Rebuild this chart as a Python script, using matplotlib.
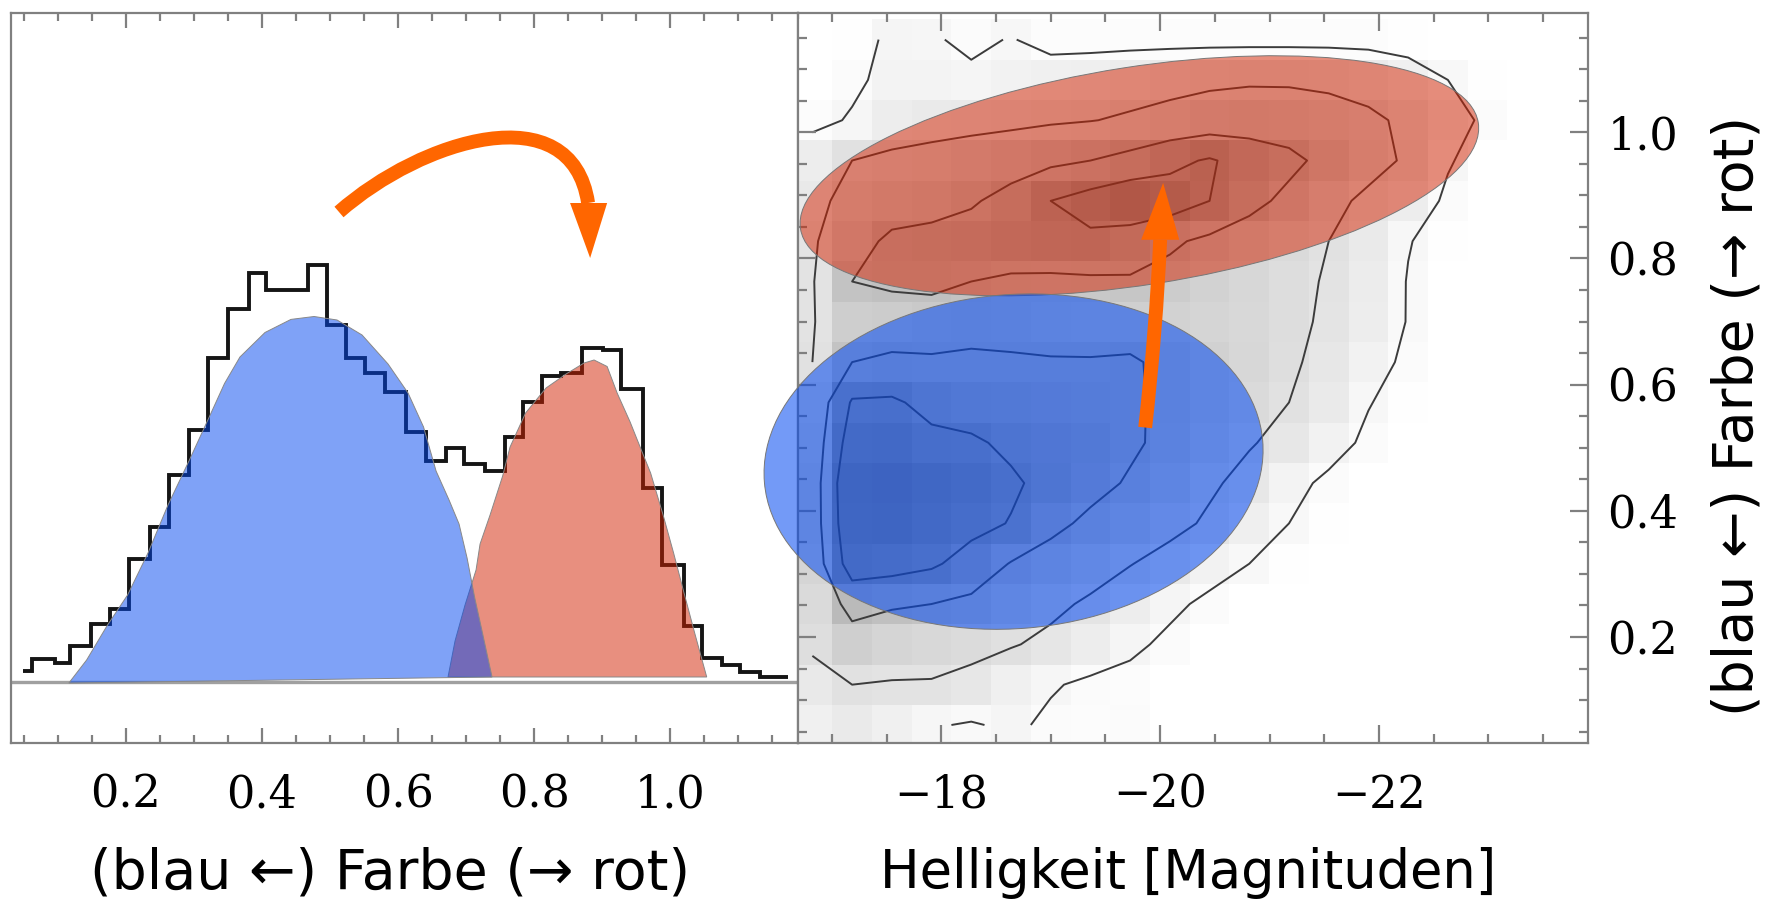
import numpy as np
import matplotlib
matplotlib.use("Agg")
import matplotlib.pyplot as plt
from matplotlib.patches import Polygon, Ellipse, PathPatch
from matplotlib.path import Path
from matplotlib.colors import LinearSegmentedColormap
import matplotlib.transforms as mtransforms
from matplotlib.ticker import MultipleLocator, FixedLocator

# ---------------- left panel: colour histogram ----------------
hist_edges = [0.0485, 0.0612, 0.0957, 0.1175, 0.1482, 0.1760, 0.2046, 0.2360, 0.2638, 0.2923,
              0.3209, 0.3494, 0.3809, 0.4063, 0.4672, 0.4956, 0.5241, 0.5512, 0.5812, 0.6112,
              0.6412, 0.6712, 0.6975, 0.7275, 0.7575, 0.7838, 0.8122, 0.8400, 0.8700, 0.9015,
              0.9285, 0.9601, 0.9885, 1.0201, 1.0463, 1.0763, 1.1026, 1.1326, 1.1740]
hist_counts = [11, 23, 19, 36, 58, 73, 123, 155, 207, 252, 324, 373, 409, 392, 417, 357,
               324, 309, 290, 250, 221, 234, 218, 211, 245, 280, 306, 309, 334, 332, 293,
               194, 117, 56, 24, 17, 10, 5]

# blue (star-forming) component outline
blue_comp_colour = [0.1161, 0.1422, 0.1720, 0.2024, 0.2324, 0.2618, 0.2926, 0.3221, 0.3449,
                    0.3676, 0.4044, 0.4426, 0.4765, 0.5103, 0.5471, 0.5853, 0.6147, 0.6375,
                    0.6559, 0.6750, 0.6897, 0.7015, 0.7125, 0.7235, 0.7382]
blue_comp_height = [-1.3, 21.7, 55.7, 86.7, 128.7, 176.7, 220.7, 264.2, 298.2, 324.7, 349.2,
                    362.3, 365.2, 361.7, 346.7, 317.7, 288.7, 254.7, 210.7, 181.7, 157.7,
                    123.7, 84.7, 50.7, 4.7]
# red (passive) component outline
red_comp_colour = [0.6735, 0.6838, 0.6985, 0.7147, 0.7206, 0.7353, 0.7538, 0.7647, 0.7875,
                   0.8176, 0.8471, 0.8735, 0.8882, 0.9074, 0.9221, 0.9412, 0.9559, 0.9713,
                   0.9897, 1.0051, 1.0201, 1.0353, 1.0538]
red_comp_height = [4.7, 40.7, 76.7, 111.7, 137.7, 166.7, 205.7, 234.7, 268.7, 293.7, 307.7,
                   318.7, 321.7, 315.2, 288.7, 259.7, 234.7, 208.7, 166.7, 128.7, 89.7,
                   50.7, 4.7]

colour_ticks = [0.2, 0.4, 0.6, 0.8, 1.0]
colour_ticklabels = ["0.2", "0.4", "0.6", "0.8", "1.0"]

# ---------------- right panel: colour-magnitude density ----------------
mag_range = (-16.64, -23.90)      # grid extent in magnitudes (20 cells)
col_range = (0.0286, 1.1788)      # grid extent in colour (18 cells)
density_rows_top_to_bottom = [
    [0.0, 0.1, 0.7, 0.6, 0.3, 0.55, 0.2, 0.2, 0.2, 0.2, 0.2, 0.2, 0.2, 0.2, 0.2, 0.1, 0, 0, 0, 0],
    [0.0, 0.3, 0.8, 0.8, 0.7, 0.9, 1.0, 1.1, 1.3, 1.5, 1.7, 1.8, 1.8, 1.7, 1.4, 1.0, 0.5, 0.1, 0, 0],
    [0.2, 0.6, 1.2, 1.4, 1.5, 1.6, 1.8, 1.95, 2.2, 2.5, 2.8, 3.0, 2.9, 2.6, 2.3, 1.7, 0.9, 0.3, 0, 0],
    [1.2, 2.0, 2.3, 2.5, 2.8, 3.2, 3.6, 4.0, 4.6, 5.5, 6.2, 5.2, 4.5, 3.4, 2.5, 1.8, 0.6, 0, 0, 0],
    [1.5, 2.6, 3.0, 3.3, 3.8, 4.6, 6.0, 6.8, 7.5, 7.0, 6.0, 4.6, 3.5, 2.4, 1.7, 1.2, 0.3, 0, 0, 0],
    [1.8, 3.2, 4.4, 4.6, 4.8, 5.2, 5.5, 5.6, 5.0, 4.3, 3.6, 3.0, 2.5, 2.0, 1.4, 0.55, 0.1, 0, 0, 0],
    [1.9, 4.0, 4.2, 4.2, 4.0, 3.7, 3.6, 3.7, 3.8, 3.4, 3.0, 2.7, 2.3, 1.9, 1.3, 0.45, 0, 0, 0, 0],
    [1.9, 3.3, 3.4, 3.6, 3.8, 3.7, 3.4, 3.3, 3.2, 3.0, 2.8, 2.6, 2.3, 1.8, 1.2, 0.45, 0, 0, 0, 0],
    [2.0, 4.0, 4.2, 4.1, 4.1, 4.1, 4.1, 4.1, 4.2, 3.6, 3.1, 2.7, 2.2, 1.6, 0.9, 0.3, 0, 0, 0, 0],
    [2.5, 6.2, 6.3, 5.4, 5.0, 4.8, 4.6, 4.4, 4.2, 3.7, 3.0, 2.5, 2.0, 1.4, 0.55, 0.1, 0, 0, 0, 0],
    [2.8, 7.0, 7.2, 6.5, 6.3, 5.6, 5.2, 4.8, 4.3, 3.5, 2.8, 2.1, 1.6, 0.9, 0.3, 0, 0, 0, 0, 0],
    [3.0, 7.8, 8.0, 7.5, 7.0, 6.3, 5.4, 4.6, 3.8, 3.0, 2.2, 1.6, 0.8, 0.3, 0, 0, 0, 0, 0, 0],
    [3.0, 7.6, 7.8, 7.2, 6.6, 5.9, 4.5, 3.6, 3.0, 2.4, 1.8, 1.1, 0.5, 0.1, 0, 0, 0, 0, 0, 0],
    [2.8, 7.0, 6.8, 6.3, 5.2, 3.9, 3.2, 2.6, 2.05, 1.5, 0.9, 0.5, 0.1, 0, 0, 0, 0, 0, 0, 0],
    [2.5, 4.6, 4.2, 4.0, 3.6, 2.9, 2.3, 1.8, 1.2, 0.7, 0.3, 0, 0, 0, 0, 0, 0, 0, 0, 0],
    [2.2, 3.2, 2.8, 2.6, 2.4, 2.1, 1.7, 1.2, 0.7, 0.3, 0, 0, 0, 0, 0, 0, 0, 0, 0, 0],
    [1.5, 2.0, 1.9, 1.9, 1.6, 1.0, 0.6, 0.3, 0.2, 0, 0, 0, 0, 0, 0, 0, 0, 0, 0, 0],
    [1.0, 1.4, 1.0, 0.6, 0.4, 0.7, 0.3, 0.2, 0.3, 0, 0, 0, 0, 0, 0, 0, 0, 0, 0, 0],
]
contour_levels = [0.5, 2, 4, 6]

mag_ticks = [-18, -20, -22]
mag_ticklabels = ["\u221218", "\u221220", "\u221222"]
cmd_colour_ticks = [0.2, 0.4, 0.6, 0.8, 1.0]
cmd_colour_ticklabels = ["0.2", "0.4", "0.6", "0.8", "1.0"]

# ellipses: (centre magnitude, centre colour, semi-axes in px, tilt in deg)
red_seq = dict(mag=-19.81, col=0.931, a=343, b=109, tilt=8.9)
blue_cloud = dict(mag=-18.66, col=0.478, a=250, b=167, tilt=4.8)

# arrows
left_arrow_path = [(0.5132, 469.7), (0.6346, 542.3), (0.8551, 588.7), (0.8794, 478.7)]
left_arrow_head = [(0.8529, 478.7), (0.9074, 478.7), (0.8824, 423.7)]
right_arrow_path = [(-19.863, 0.532), (-19.963, 0.686), (-20.000, 0.8296)]
right_arrow_head = [(-19.826, 0.8296), (-20.174, 0.8296), (-20.027, 0.9198)]

xlabel_left = "(blau \u2190) Farbe (\u2192 rot)"
xlabel_right = "Helligkeit [Magnituden]"
ylabel_right = "(blau \u2190) Farbe (\u2192 rot)"

# ---------------- styles ----------------
BLUE = (0 / 255, 71 / 255, 241 / 255)
RED = (211 / 255, 33 / 255, 0 / 255)
ORANGE = "#ff6600"
SPINE = "#808080"
W, H = 1787, 899

fig = plt.figure(figsize=(W / 100, H / 100), dpi=100)
ax1 = fig.add_axes([11 / W, 1 - 743 / H, (798 - 11) / W, (743 - 13) / H])
ax2 = fig.add_axes([798 / W, 1 - 743 / H, (1588 - 798) / W, (743 - 13) / H])
ax2.set_zorder(ax1.get_zorder() + 1)
ax2.patch.set_alpha(0)

tick_font = dict(family="DejaVu Serif", size=32)

# ---- left panel ----
ax1.set_xlim(0.031, 1.188)
ax1.set_ylim(-61.3, 668.7)
ax1.axhline(0, color="#a0a0a0", lw=2.4, zorder=1)
ax1.stairs(hist_counts, hist_edges, baseline=None, color="#151515", lw=2.8, zorder=2)
ax1.add_patch(Polygon(list(zip(red_comp_colour, red_comp_height)), closed=True,
                      facecolor=RED, alpha=0.5, edgecolor="none", zorder=3))
ax1.add_patch(Polygon(list(zip(red_comp_colour, red_comp_height)), closed=True,
                      fill=False, edgecolor="#888888", lw=0.7, zorder=3))
ax1.add_patch(Polygon(list(zip(blue_comp_colour, blue_comp_height)), closed=True,
                      facecolor=BLUE, alpha=0.5, edgecolor="none", zorder=4))
ax1.add_patch(Polygon(list(zip(blue_comp_colour, blue_comp_height)), closed=True,
                      fill=False, edgecolor="#888888", lw=0.7, zorder=4))
shaft = Path(left_arrow_path, [Path.MOVETO, Path.CURVE4, Path.CURVE4, Path.CURVE4])
ax1.add_patch(PathPatch(shaft, fill=False, edgecolor=ORANGE, lw=10, capstyle="butt", zorder=6))
ax1.add_patch(Polygon(left_arrow_head, closed=True, facecolor=ORANGE, edgecolor="none", zorder=6))

ax1.xaxis.set_major_locator(FixedLocator(colour_ticks))
ax1.set_xticklabels(colour_ticklabels, **tick_font)
ax1.xaxis.set_minor_locator(MultipleLocator(0.05))
ax1.tick_params(axis="x", which="both", direction="in", top=True, bottom=True,
                color=SPINE, width=1.6)
ax1.tick_params(axis="x", which="major", length=11, pad=22)
ax1.tick_params(axis="x", which="minor", length=5.5)
ax1.set_yticks([])
for s in ax1.spines.values():
    s.set_color(SPINE)
    s.set_linewidth(1.6)

# ---- right panel ----
mag_edges = np.linspace(mag_range[0], mag_range[1], 21)
col_edges = np.linspace(col_range[0], col_range[1], 19)
density = np.array(density_rows_top_to_bottom)[::-1]
mag_c = 0.5 * (mag_edges[:-1] + mag_edges[1:])
col_c = 0.5 * (col_edges[:-1] + col_edges[1:])
gray = LinearSegmentedColormap.from_list("g", ["white", "black"])
ax2.pcolormesh(mag_edges, col_edges, density, cmap=gray, vmin=0, vmax=17,
               shading="flat", zorder=0)
ax2.contour(mag_c, col_c, density, levels=contour_levels, colors="#3c3c3c",
            linewidths=1.4, zorder=1)

for ell, col, alp, z in [(red_seq, RED, 0.5, 2), (blue_cloud, BLUE, 0.55, 3)]:
    trans = fig.dpi_scale_trans + mtransforms.ScaledTranslation(ell["mag"], ell["col"], ax2.transData)
    ax2.add_patch(Ellipse((0, 0), 2 * ell["a"] / 100, 2 * ell["b"] / 100, angle=ell["tilt"],
                          transform=trans, facecolor=col, alpha=alp, edgecolor="none",
                          zorder=z, clip_on=False))
    ax2.add_patch(Ellipse((0, 0), 2 * ell["a"] / 100, 2 * ell["b"] / 100, angle=ell["tilt"],
                          transform=trans, fill=False, edgecolor="#777777", lw=0.7,
                          zorder=z, clip_on=False))

rshaft = Path(right_arrow_path, [Path.MOVETO, Path.CURVE3, Path.CURVE3])
ax2.add_patch(PathPatch(rshaft, fill=False, edgecolor=ORANGE, lw=10, capstyle="butt", zorder=6))
ax2.add_patch(Polygon(right_arrow_head, closed=True, facecolor=ORANGE, edgecolor="none", zorder=6))

ax2.set_xlim(-16.69, -23.91)
ax2.set_ylim(0.032, 1.189)
ax2.xaxis.set_major_locator(FixedLocator(mag_ticks))
ax2.set_xticklabels(mag_ticklabels, **tick_font)
ax2.xaxis.set_minor_locator(MultipleLocator(0.5))
ax2.yaxis.set_major_locator(FixedLocator(cmd_colour_ticks))
ax2.set_yticklabels(cmd_colour_ticklabels, **tick_font)
ax2.yaxis.set_minor_locator(MultipleLocator(0.05))
ax2.tick_params(which="both", direction="in", top=True, bottom=True, left=True, right=True,
                labelleft=False, labelright=True, color=SPINE, width=1.6)
ax2.tick_params(which="major", length=13)
ax2.tick_params(which="minor", length=6.5)
ax2.tick_params(axis="x", which="major", pad=22)
ax2.tick_params(axis="y", which="major", pad=14)
for s in ax2.spines.values():
    s.set_color(SPINE)
    s.set_linewidth(1.6)

label_font = dict(family="DejaVu Sans", size=38, color="black")
fig.text(390 / W, 1 - 873 / H, xlabel_left, ha="center", va="center",
         **dict(label_font, size=40))
fig.text(1188 / W, 1 - 873 / H, xlabel_right, ha="center", va="center", **label_font)
fig.text(1738 / W, 1 - 416 / H, ylabel_right, ha="center", va="center", rotation=90,
         **dict(label_font, size=40))

fig.savefig("out.png", dpi=100)
